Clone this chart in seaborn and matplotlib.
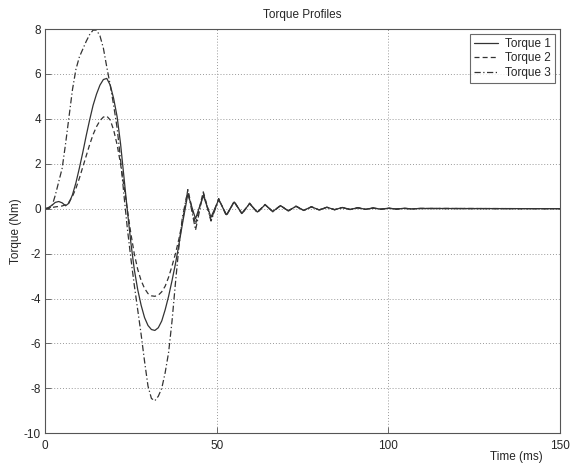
import pandas as pd
import matplotlib
matplotlib.use("Agg")
import matplotlib.pyplot as plt
import seaborn as sns

sns.set_style("whitegrid")
plt.rcParams['font.family'] = ['Liberation Sans', 'DejaVu Sans']
plt.rcParams['axes.unicode_minus'] = False

# time axis (ms): 1 ms steps over the main lobes, then peaks/troughs of the ringing
time_ms = [0, 1, 2, 3, 4, 5, 6, 7, 8, 9, 10, 11, 12, 13, 14, 15, 16, 17, 18, 19, 20,
           21, 22, 23, 24, 25, 26, 27, 28, 29, 30, 31, 32, 33, 34, 35, 36, 37, 38, 39, 40,
           41.6, 43.85, 46.1, 48.35, 50.6, 52.85, 55.1, 57.35, 59.6, 61.85, 64.1, 66.35,
           68.6, 70.85, 73.1, 75.35, 77.6, 79.85, 82.1, 84.35, 86.6, 88.85, 91.1, 93.35,
           95.6, 97.85, 100.1, 102.35, 104.6, 106.85, 109.1, 150]

torque1 = [0, 0.05, 0.15, 0.28, 0.32, 0.26, 0.13, 0.25, 0.62, 1.15, 1.8, 2.5, 3.25, 3.95,
           4.6, 5.1, 5.5, 5.75, 5.8, 5.5, 4.9, 4.1, 2.9, 1.4, -0.1, -1.5, -2.7, -3.6, -4.3,
           -4.85, -5.2, -5.38, -5.42, -5.3, -5.0, -4.5, -3.9, -3.2, -2.45, -1.6, -0.7,
           0.65, -0.45, 0.58, -0.38, 0.4, -0.27, 0.3, -0.2, 0.22, -0.15, 0.17, -0.12, 0.13,
           -0.09, 0.1, -0.07, 0.08, -0.05, 0.06, -0.04, 0.05, -0.03, 0.04, -0.025, 0.03,
           -0.02, 0.02, -0.015, 0.015, -0.01, 0.01, 0]

torque2 = [0, 0.02, 0.05, 0.08, 0.1, 0.12, 0.18, 0.3, 0.55, 0.9, 1.35, 1.85, 2.35, 2.85,
           3.3, 3.65, 3.92, 4.08, 4.12, 3.95, 3.5, 2.85, 2.0, 1.0, -0.05, -1.1, -2.0, -2.7,
           -3.2, -3.55, -3.78, -3.88, -3.9, -3.85, -3.7, -3.45, -3.05, -2.55, -2.0, -1.35, -0.6,
           0.85, -0.7, 0.75, -0.5, 0.45, -0.32, 0.33, -0.24, 0.25, -0.18, 0.19, -0.14, 0.15,
           -0.11, 0.12, -0.08, 0.09, -0.06, 0.07, -0.05, 0.055, -0.04, 0.045, -0.03, 0.035,
           -0.025, 0.025, -0.02, 0.02, -0.01, 0.01, 0]

torque3 = [0, 0, 0.1, 0.6, 1.2, 1.8, 2.9, 4.1, 5.3, 6.2, 6.75, 7.1, 7.45, 7.75, 7.95, 7.95,
           7.7, 7.15, 6.3, 5.5, 4.6, 3.6, 2.2, 0.6, -0.9, -2.2, -3.4, -4.5, -5.6, -6.8, -7.9,
           -8.45, -8.55, -8.35, -8.0, -7.3, -6.4, -5.0, -3.3, -1.7, -0.4,
           0.8, -0.95, 0.7, -0.55, 0.42, -0.3, 0.3, -0.22, 0.23, -0.16, 0.18, -0.13, 0.14,
           -0.1, 0.11, -0.08, 0.08, -0.06, 0.06, -0.045, 0.05, -0.035, 0.04, -0.03, 0.03,
           -0.02, 0.02, -0.015, 0.015, -0.01, 0.01, 0]

series_names = ["Torque 1", "Torque 2", "Torque 3"]

frames = []
for name, vals in zip(series_names, [torque1, torque2, torque3]):
    frames.append(pd.DataFrame({"Time": time_ms, "Torque": vals, "Series": name}))
df = pd.concat(frames, ignore_index=True)

fig = plt.figure(figsize=(5.77, 4.66), dpi=100)
ax = fig.add_axes([45/577, 1 - 433.3/466, 515/577, 404.3/466])

sns.lineplot(data=df, x="Time", y="Torque", hue="Series", style="Series",
             palette=["#333333"] * 3, dashes=["", (4, 2.5), (5, 2, 1, 2)],
             estimator=None, sort=False, lw=0.9, ax=ax)

ax.set_xlim(0, 150)
ax.set_ylim(-10, 8)
ax.set_xticks([0, 50, 100, 150])
ax.set_yticks(range(-10, 9, 2))
ax.grid(True, linestyle=(0, (1, 2)), color="#9a9a9a", linewidth=0.7)
for s in ax.spines.values():
    s.set_visible(True)
    s.set_color("#555555")
    s.set_linewidth(0.8)
ax.tick_params(direction="in", length=4, width=0.6, color="#555555",
               labelsize=8.5, pad=3, bottom=True, left=True)
ax.tick_params(axis="x", pad=5)

ax.set_title("Torque Profiles", fontsize=8.5, pad=8)
ax.set_ylabel("Torque (Nm)", fontsize=8.5, labelpad=1)
ax.set_xlabel("Time (ms)", fontsize=8.5, va="center")
ax.xaxis.set_label_coords(0.915, -0.058)

handles, labels = ax.get_legend_handles_labels()
leg = ax.legend(handles, labels, loc="upper right", bbox_to_anchor=(0.99, 0.988),
                borderaxespad=0, fontsize=8.5, frameon=True, fancybox=False,
                edgecolor="#444444", handlelength=2.0, handletextpad=0.6,
                labelspacing=0.2, borderpad=0.35)
leg.get_frame().set_linewidth(0.8)

fig.savefig("out.png", dpi=100)
